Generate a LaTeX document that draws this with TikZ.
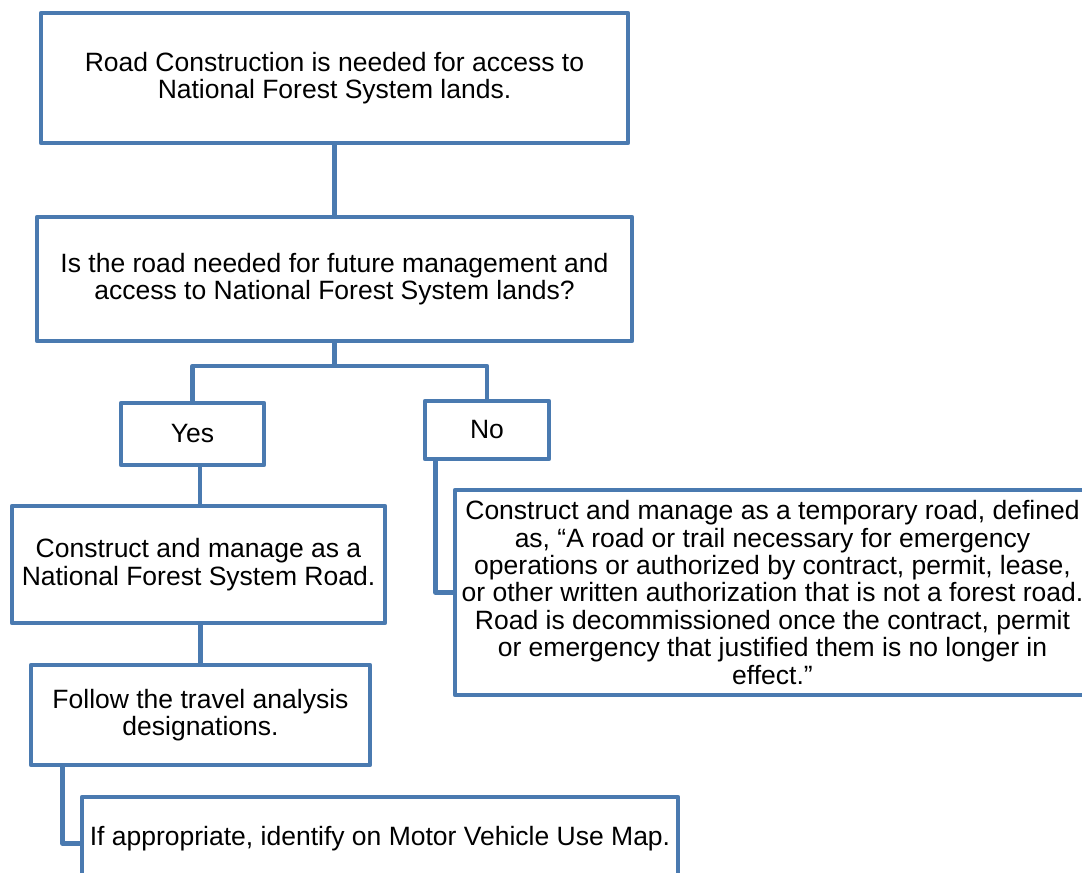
\documentclass[tikz,border=0pt]{standalone}
\usepackage{fontspec}
\setmainfont{Liberation Sans}
\definecolor{edge}{RGB}{74,122,176}
\begin{document}
\begin{tikzpicture}[x=1pt,y=-1pt,
  box/.style={draw=edge, line width=4.8pt, line join=round, fill=white, inner sep=0pt, align=center, font=\fontsize{26.5}{27.4}\selectfont},
  link/.style={draw=edge, line width=4.8pt, line join=round}]
\useasboundingbox[fill=white] (0,0) rectangle (1082,873);
\node[box, minimum width=587pt, minimum height=130pt] (road) at (334.5,78) {Road Construction is needed for access to\\National Forest System lands.};
\node[box, minimum width=595pt, minimum height=124pt] (ask) at (334.5,279) {Is the road needed for future management and\\access to National Forest System lands?};
\node[box, minimum width=143pt, minimum height=62pt] (yes) at (192.5,434) {Yes};
\node[box, minimum width=124pt, minimum height=58pt] (no) at (487,430) {No};
\node[box, minimum width=373pt, minimum height=117pt] (nfs) at (198.5,564.5) {Construct and manage as a\\National Forest System Road.};
\node[box, minimum width=339pt, minimum height=100pt] (travel) at (200.5,715) {Follow the travel analysis\\designations.};
\node[box, minimum width=596pt, minimum height=83pt] (mvum) at (380,838.5) {If appropriate, identify on Motor Vehicle Use Map.};
\node[box, minimum width=635pt, minimum height=205pt] (temp) at (772.5,592.5) {Construct and manage as a temporary road, defined\\as, “A road or trail necessary for emergency\\operations or authorized by contract, permit, lease,\\or other written authorization that is not a forest road.\\Road is decommissioned once the contract, permit\\or emergency that justified them is no longer in\\effect.”};
\coordinate (split) at (334.5,366);
\draw[link] (road.south) -- (ask.north);
\draw[link] (ask.south) -- (split);
\draw[link] (yes.north) |- (split) -| (no.north);
\draw[link] ([xshift=7.5pt]yes.south) -- ([xshift=7.5pt]yes.south |- nfs.north);
\draw[link] (nfs.south -| travel.north) -- (travel.north);
\draw[link] ([xshift=34pt]travel.south west) |- ([yshift=-5pt]mvum.west);
\draw[link] ([xshift=13pt]no.south west) |- (temp.west);
\end{tikzpicture}
\end{document}
